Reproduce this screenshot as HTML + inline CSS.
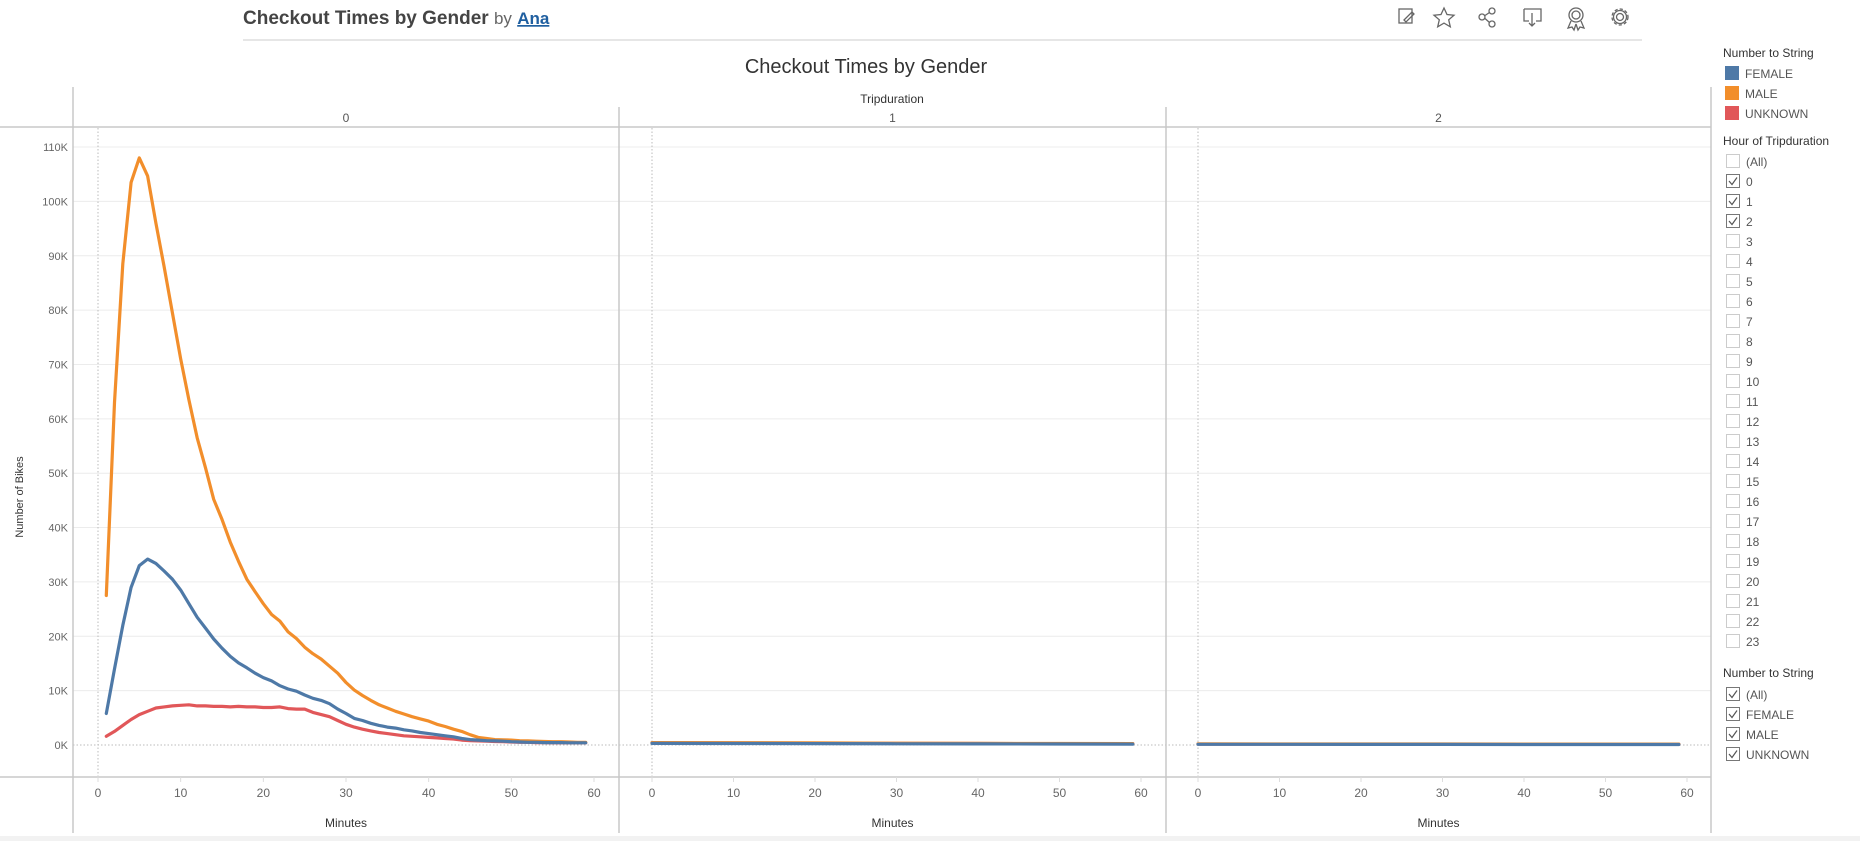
<!DOCTYPE html>
<html><head><meta charset="utf-8"><style>
body{margin:0;width:1860px;height:841px;overflow:hidden;background:#fff;font-family:"Liberation Sans",sans-serif}
svg{position:absolute;left:0;top:0}
</style></head><body>
<svg id="c" width="1860" height="841" xmlns="http://www.w3.org/2000/svg">
<rect x="0" y="836" width="1860" height="5" fill="#f2f2f2"/>
<text x="243" y="24" font-size="19" font-weight="bold" fill="#444">Checkout Times by Gender <tspan font-weight="normal" fill="#666" font-size="17">by</tspan> <tspan font-weight="bold" fill="#1f5fa0" font-size="17" text-decoration="underline">Ana</tspan></text>
<line x1="243" y1="40" x2="1642" y2="40" stroke="#ddd" stroke-width="1.5"/>
<g stroke="#666" fill="none" stroke-width="1.3">
<g><rect x="1399" y="9" width="13" height="14"/><path d="M1404 20l8-8 2 2-8 8z"/></g>
<path d="M1444 8l3 6.5 7 .7-5.3 4.6 1.6 7-6.3-3.7-6.3 3.7 1.6-7-5.3-4.6 7-.7z"/>
<g><circle cx="1482" cy="17" r="3"/><circle cx="1492" cy="11" r="3"/><circle cx="1492" cy="24" r="3"/><path d="M1485 15.5l4.5-3M1485 18.5l4.5 4"/></g>
<g><path d="M1524 9h17v12h-5M1529 21h-5V9"/><path d="M1532 13v13M1529 23l3 3 3-3"/></g>
<g><circle cx="1576" cy="15" r="7"/><circle cx="1576" cy="15" r="4"/><path d="M1571 21l-3 7 4-1 2 3 2-6M1581 21l3 7-4-1-2 3-2-6"/></g>
<g><circle cx="1620" cy="17" r="3.5"/><circle cx="1620" cy="17" r="8" stroke-dasharray="3.2 2.1"/><circle cx="1620" cy="17" r="6.5"/></g>
</g>
<text x="866" y="73" font-size="20" fill="#333" text-anchor="middle">Checkout Times by Gender</text>
<text x="892" y="103" font-size="12" fill="#333" text-anchor="middle">Tripduration</text>
<text x="23" y="497" font-size="11" fill="#333" text-anchor="middle" transform="rotate(-90 23 497)">Number of Bikes</text>
<g id="plot"></g>
<g id="legend" font-size="13" fill="#555"></g>
</svg>
<script>
const yTicks=[0,10,20,30,40,50,60,70,80,90,100,110];
const xTicks=[0,10,20,30,40,50,60];
const panels=["0","1","2"];
const minutes0=[1,2,3,4,5,6,7,8,9,10,11,12,13,14,15,16,17,18,19,20,21,22,23,24,25,26,27,28,29,30,31,32,33,34,35,36,37,38,39,40,41,42,43,44,45,46,47,48,49,50,51,52,53,54,55,56,57,58,59];
const female0=[5.8,14,22,29,33,34.2,33.4,32,30.5,28.5,26,23.5,21.5,19.5,17.8,16.3,15.1,14.2,13.2,12.4,11.8,10.9,10.3,9.9,9.2,8.6,8.2,7.6,6.6,5.8,4.9,4.5,4.0,3.6,3.3,3.1,2.8,2.6,2.3,2.1,1.9,1.7,1.5,1.2,1.0,0.9,0.8,0.75,0.7,0.6,0.55,0.5,0.5,0.45,0.45,0.45,0.4,0.4,0.4];
const male0=[27.5,63,88.5,103.5,108,104.7,96,88,79.5,71,63.5,56.5,51,45.2,41.5,37.3,33.8,30.5,28.2,26,24,22.8,20.8,19.6,18,16.8,15.8,14.5,13.2,11.5,10.1,9.1,8.2,7.4,6.8,6.2,5.7,5.2,4.8,4.4,3.8,3.4,2.9,2.5,1.9,1.4,1.2,1.0,0.95,0.9,0.8,0.75,0.7,0.65,0.6,0.6,0.55,0.5,0.5];
const unknown0=[1.6,2.5,3.6,4.7,5.6,6.2,6.8,7.0,7.2,7.3,7.4,7.2,7.2,7.1,7.1,7.0,7.1,7.0,7.0,6.9,6.9,7.0,6.7,6.6,6.6,6.0,5.6,5.2,4.5,3.8,3.3,2.9,2.6,2.3,2.1,1.9,1.7,1.6,1.5,1.4,1.3,1.2,1.1,0.9,0.8,0.75,0.7,0.65,0.6,0.55,0.5,0.5,0.45,0.45,0.4,0.4,0.4,0.4,0.4];
const minutesN=[0,10,20,30,40,50,59];
const female1=[0.3,0.28,0.25,0.22,0.2,0.18,0.17];
const male1=[0.45,0.42,0.38,0.34,0.3,0.28,0.26];
const unknown1=[0.4,0.37,0.33,0.3,0.27,0.25,0.23];
const female2=[0.12,0.12,0.11,0.11,0.1,0.1,0.1];
const male2=[0.2,0.19,0.18,0.18,0.17,0.17,0.16];
const unknown2=[0.17,0.16,0.16,0.15,0.15,0.14,0.14];
const legendItems=["FEMALE","MALE","UNKNOWN"];
const colors=["#4e79a7","#f28e2b","#e15759"];
const hours=["(All)","0","1","2","3","4","5","6","7","8","9","10","11","12","13","14","15","16","17","18","19","20","21","22","23"];
const hoursChecked=["0","1","2"];
const genderFilter=["(All)","FEMALE","MALE","UNKNOWN"];

const NS="http://www.w3.org/2000/svg";
function mk(p,t,a){const e=document.createElementNS(NS,t);for(const k in a)e.setAttribute(k,a[k]);p.appendChild(e);return e;}
const plot=document.getElementById('plot');
const Y0=745,YSTEP=54.36;
function y(v){return Y0-v*YSTEP/10;}
const pan=[{l:73,x0:98,x60:594,r:619},{l:619,x0:652,x60:1141,r:1166},{l:1166,x0:1198,x60:1687,r:1711}];
function xf(i,m){const p=pan[i];return p.x0+(p.x60-p.x0)*m/60;}
// grid
yTicks.forEach(t=>{
  if(t>0){const g=mk(plot,'line',{x1:73,x2:1711,y1:y(t),y2:y(t),stroke:'#ececec','stroke-width':1});
  
  }
  const tx=mk(plot,'text',{x:68,y:y(t)+4,'font-size':11,fill:'#666','text-anchor':'end'});
  tx.textContent=t+'K';
  
  
});
mk(plot,'line',{x1:73,x2:1711,y1:Y0,y2:Y0,stroke:'#bbb','stroke-dasharray':'1.5 2'});
// frame lines
mk(plot,'line',{x1:0,x2:1711,y1:127,y2:127,stroke:'#c8c8c8','stroke-width':1.5});
mk(plot,'line',{x1:0,x2:1711,y1:777,y2:777,stroke:'#c8c8c8','stroke-width':1.5});
mk(plot,'line',{x1:73,x2:73,y1:87,y2:833,stroke:'#c8c8c8','stroke-width':1.5});
mk(plot,'line',{x1:619,x2:619,y1:107,y2:833,stroke:'#c8c8c8','stroke-width':1.5});
mk(plot,'line',{x1:1166,x2:1166,y1:107,y2:833,stroke:'#c8c8c8','stroke-width':1.5});
mk(plot,'line',{x1:1711,x2:1711,y1:87,y2:833,stroke:'#c8c8c8','stroke-width':1.5});
panels.forEach((p,i)=>{
  const P=pan[i];
  const h=mk(plot,'text',{x:(P.l+P.r)/2,y:122,'font-size':12,fill:'#555','text-anchor':'middle'});
  h.textContent=p;
  
  
  mk(plot,'line',{x1:xf(i,0),x2:xf(i,0),y1:128,y2:776,stroke:'#bbb','stroke-dasharray':'1.5 2'});
  xTicks.forEach(t=>{
    mk(plot,'line',{x1:xf(i,t),x2:xf(i,t),y1:777,y2:782,stroke:'#ddd'});
    const tx=mk(plot,'text',{x:xf(i,t),y:797,'font-size':12,fill:'#666','text-anchor':'middle'});
    tx.textContent=t;
    
    
  });
  const xl=mk(plot,'text',{x:(P.l+P.r)/2,y:827,'font-size':12,fill:'#333','text-anchor':'middle'});
  xl.textContent='Minutes';
  
  
});
function line(i,xs,vs,c,nm){
  const d=xs.map((m,k)=>(k?'L':'M')+xf(i,m).toFixed(1)+' '+y(vs[k]).toFixed(1)).join(' ');
  const e=mk(plot,'path',{d:d,fill:'none',stroke:c,'stroke-width':3.2,'stroke-linejoin':'round','stroke-linecap':'round'});
  
  
}
line(0,minutes0,unknown0,colors[2],'unknown-line-0');
line(0,minutes0,male0,colors[1],'male-line-0');
line(0,minutes0,female0,colors[0],'female-line-0');
line(1,minutesN,unknown1,colors[2],'unknown-line-1');
line(1,minutesN,male1,colors[1],'male-line-1');
line(1,minutesN,female1,colors[0],'female-line-1');
line(2,minutesN,unknown2,colors[2],'unknown-line-2');
line(2,minutesN,male2,colors[1],'male-line-2');
line(2,minutesN,female2,colors[0],'female-line-2');
// legend
const lg=document.getElementById('legend');
function title(t,yy,nm){const e=mk(lg,'text',{x:1723,y:yy,'font-size':12,fill:'#333'});e.textContent=t;

}
title('Number to String',57,'color-legend-title');
legendItems.forEach((t,k)=>{
  const yy=73+k*20;
  const g=mk(lg,'g',{});
  
  
  mk(g,'rect',{x:1725,y:yy-7,width:14,height:14,fill:colors[k]});
  const tx=mk(g,'text',{x:1745,y:yy+5,'font-size':12,fill:'#555'});tx.textContent=t;
});
function cb(label,yy,checked,nm){
  const g=mk(lg,'g',{});
  
  
  mk(g,'rect',{x:1726.5,y:yy-6.5,width:13,height:13,fill:'#fff',stroke:checked?'#777':'#ccc','stroke-width':1});
  if(checked)mk(g,'path',{d:`M1729 ${yy} l3 3.5 l5 -7`,fill:'none',stroke:'#555','stroke-width':1.2});
  const tx=mk(g,'text',{x:1746,y:yy+5,'font-size':12,fill:'#555'});tx.textContent=label;
}
title('Hour of Tripduration',145,'hour-filter-title');
hours.forEach((h,k)=>cb(h,161+k*20,hoursChecked.includes(h),'hour-checkbox-'+(h==='(All)'?'all':h)));
title('Number to String',677,'gender-filter-title');
genderFilter.forEach((h,k)=>cb(h,694+k*20,true,'gender-checkbox-'+(h==='(All)'?'all':h.toLowerCase())));
</script>
</body></html>
